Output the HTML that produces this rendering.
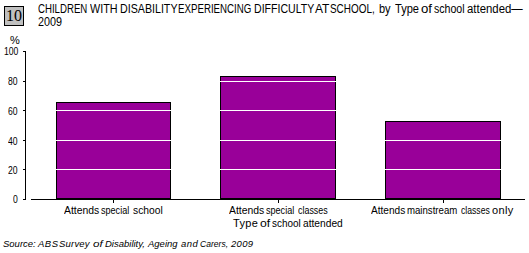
<!DOCTYPE html>
<html>
<head>
<meta charset="utf-8">
<style>
html,body{margin:0;padding:0;background:#fff;}
body{width:529px;height:253px;position:relative;overflow:hidden;font-family:"Liberation Sans",sans-serif;color:#000;}
.t{position:absolute;white-space:nowrap;line-height:1;transform-origin:0 0;}
.box{position:absolute;left:4px;top:6px;width:20px;height:20px;box-sizing:border-box;border:1px solid #000;background:#c0c0c0;}
.ln{position:absolute;background:#000;}
.bar{position:absolute;box-sizing:border-box;border:1px solid #000;background:#990099;}
.gl{position:absolute;height:1px;background:#fff;}
</style>
</head>
<body>
<div class="box"></div>
<div class="t" style="left:6px;top:8px;font-size:16px;font-family:'Liberation Serif',serif;">10</div>
<div class="t" style="left:38.00px;top:3px;font-size:12px;transform:scaleX(0.8033);">CHILDREN</div>
<div class="t" style="left:90.00px;top:3px;font-size:12px;transform:scaleX(0.9000);">WITH</div>
<div class="t" style="left:120.11px;top:3px;font-size:12px;transform:scaleX(0.8889);">DISABILITY</div>
<div class="t" style="left:178.19px;top:3px;font-size:12px;transform:scaleX(0.8090);">EXPERIENCING</div>
<div class="t" style="left:254.12px;top:3px;font-size:12px;transform:scaleX(0.8806);">DIFFICULTY</div>
<div class="t" style="left:315.00px;top:3px;font-size:12px;transform:scaleX(1.0000);">AT</div>
<div class="t" style="left:330.17px;top:3px;font-size:12px;transform:scaleX(0.8269);">SCHOOL,</div>
<div class="t" style="left:379.08px;top:3px;font-size:12px;transform:scaleX(0.9167);">by</div>
<div class="t" style="left:395.00px;top:3px;font-size:12px;transform:scaleX(0.9231);">Type</div>
<div class="t" style="left:421.00px;top:3px;font-size:12px;letter-spacing:0.000px;transform:scaleX(1.1000);">of</div>
<div class="t" style="left:434.00px;top:3px;font-size:12px;transform:scaleX(0.8824);">school</div>
<div class="t" style="left:467.00px;top:3px;font-size:12px;transform:scaleX(0.9492);">attended—</div>
<div class="t" style="left:64.00px;top:205px;font-size:11px;transform:scaleX(0.9459);">Attends</div>
<div class="t" style="left:101.00px;top:205px;font-size:11px;transform:scaleX(0.8235);">special</div>
<div class="t" style="left:133.00px;top:205px;font-size:11px;transform:scaleX(0.9355);">school</div>
<div class="t" style="left:229.00px;top:205px;font-size:11px;transform:scaleX(0.9459);">Attends</div>
<div class="t" style="left:266.00px;top:205px;font-size:11px;transform:scaleX(0.8235);">special</div>
<div class="t" style="left:298.00px;top:205px;font-size:11px;transform:scaleX(0.8108);">classes</div>
<div class="t" style="left:371.00px;top:205px;font-size:11px;transform:scaleX(0.9189);">Attends</div>
<div class="t" style="left:407.12px;top:205px;font-size:11px;transform:scaleX(0.8750);">mainstream</div>
<div class="t" style="left:461.00px;top:205px;font-size:11px;transform:scaleX(0.7838);">classes</div>
<div class="t" style="left:492.00px;top:205px;font-size:11px;letter-spacing:0.333px;transform:scaleX(1.0000);">only</div>
<div class="t" style="left:3.00px;top:239px;font-size:9.5px;font-style:italic;transform:scaleX(1.0000);">Source:</div>
<div class="t" style="left:38.00px;top:239px;font-size:9.5px;font-style:italic;letter-spacing:0.500px;transform:scaleX(1.0000);">ABS</div>
<div class="t" style="left:59.00px;top:239px;font-size:9.5px;font-style:italic;letter-spacing:0.200px;transform:scaleX(1.0000);">Survey</div>
<div class="t" style="left:93.00px;top:239px;font-size:9.5px;font-style:italic;letter-spacing:0.000px;transform:scaleX(1.2222);">of</div>
<div class="t" style="left:105.00px;top:239px;font-size:9.5px;font-style:italic;transform:scaleX(1.0000);">Disability,</div>
<div class="t" style="left:148.00px;top:239px;font-size:9.5px;font-style:italic;transform:scaleX(1.0000);">Ageing</div>
<div class="t" style="left:181.00px;top:239px;font-size:9.5px;font-style:italic;letter-spacing:0.500px;transform:scaleX(1.0000);">and</div>
<div class="t" style="left:200.00px;top:239px;font-size:9.5px;font-style:italic;transform:scaleX(0.9000);">Carers,</div>
<div class="t" style="left:231.00px;top:239px;font-size:9.5px;font-style:italic;letter-spacing:0.333px;transform:scaleX(1.0000);">2009</div>
<div class="t" style="left:233.00px;top:218px;font-size:11px;letter-spacing:0.333px;transform:scaleX(1.0000);">Type</div>
<div class="t" style="left:260.00px;top:218px;font-size:11px;letter-spacing:0.000px;transform:scaleX(1.1111);">of</div>
<div class="t" style="left:272.00px;top:218px;font-size:11px;transform:scaleX(0.9032);">school</div>
<div class="t" style="left:303.00px;top:218px;font-size:11px;transform:scaleX(0.9286);">attended</div>
<div class="t" style="left:38px;top:16px;font-size:12px;transform:scaleX(0.9);">2009</div>

<div class="t" style="left:10px;top:35px;font-size:11px;">%</div>
<div class="t" style="left:4px;top:47px;font-size:10px;transform:scaleX(0.86);">100</div>
<div class="t" style="left:8px;top:77px;font-size:10px;transform:scaleX(0.86);">80</div>
<div class="t" style="left:8px;top:107px;font-size:10px;transform:scaleX(0.86);">60</div>
<div class="t" style="left:8px;top:137px;font-size:10px;transform:scaleX(0.86);">40</div>
<div class="t" style="left:8px;top:166px;font-size:10px;transform:scaleX(0.86);">20</div>
<div class="t" style="left:13px;top:195px;font-size:10px;transform:scaleX(0.86);">0</div>

<!-- y axis -->
<div class="ln" style="left:25px;top:51px;width:1px;height:149px;"></div>
<div class="ln" style="left:23px;top:51px;width:2px;height:1px;"></div>
<div class="ln" style="left:23px;top:81px;width:2px;height:1px;"></div>
<div class="ln" style="left:23px;top:110px;width:2px;height:1px;"></div>
<div class="ln" style="left:23px;top:140px;width:2px;height:1px;"></div>
<div class="ln" style="left:23px;top:169px;width:2px;height:1px;"></div>
<div class="ln" style="left:23px;top:199px;width:2px;height:1px;"></div>

<!-- bars -->
<div class="bar" style="left:56px;top:102px;width:115px;height:97px;"></div>
<div class="bar" style="left:220px;top:76px;width:116px;height:123px;"></div>
<div class="bar" style="left:385px;top:121px;width:116px;height:78px;"></div>

<!-- gridlines over bars -->
<div class="gl" style="left:56px;top:110px;width:115px;"></div>
<div class="gl" style="left:56px;top:140px;width:115px;"></div>
<div class="gl" style="left:56px;top:169px;width:115px;"></div>
<div class="gl" style="left:220px;top:81px;width:116px;"></div>
<div class="gl" style="left:220px;top:110px;width:116px;"></div>
<div class="gl" style="left:220px;top:140px;width:116px;"></div>
<div class="gl" style="left:220px;top:169px;width:116px;"></div>
<div class="gl" style="left:385px;top:140px;width:116px;"></div>
<div class="gl" style="left:385px;top:169px;width:116px;"></div>

<!-- x axis -->
<div class="ln" style="left:31px;top:199px;width:494px;height:1px;"></div>
<div class="ln" style="left:113px;top:200px;width:1px;height:3px;"></div>
<div class="ln" style="left:278px;top:200px;width:1px;height:3px;"></div>
<div class="ln" style="left:443px;top:200px;width:1px;height:3px;"></div>


</body>
</html>
